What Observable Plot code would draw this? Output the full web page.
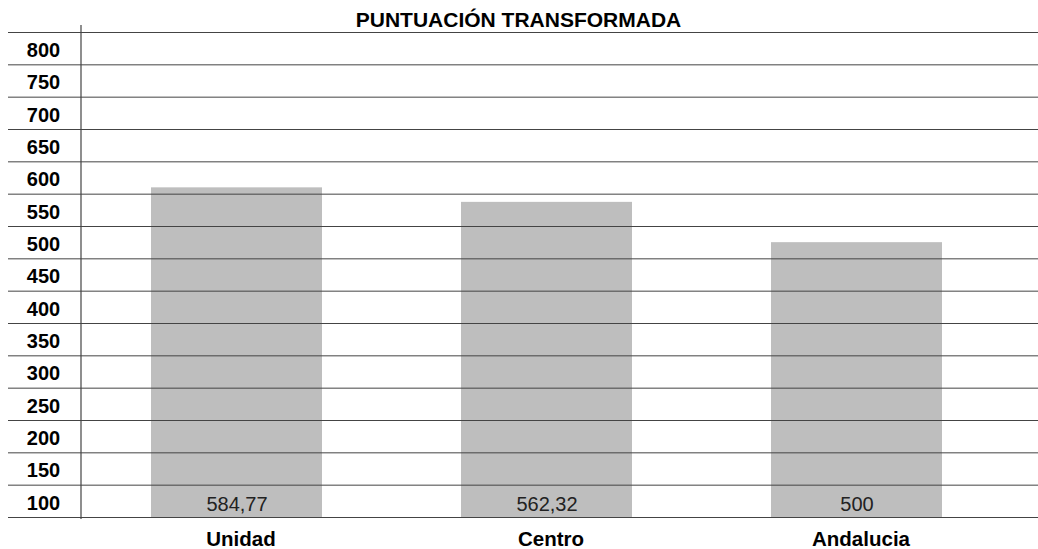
<!DOCTYPE html>
<html><head><meta charset="utf-8">
<script src="https://cdn.jsdelivr.net/npm/d3@7"></script>
<script src="https://cdn.jsdelivr.net/npm/@observablehq/plot@0.6"></script>
<style>body{margin:0;background:#fff} svg{display:block}</style>
</head><body><div id="chart"></div>
<script>
const title = "PUNTUACIÓN TRANSFORMADA";
const categories = ["Unidad", "Centro", "Andalucia"];
const values = [584.77, 562.32, 500];
const tickLabels = [800, 750, 700, 650, 600, 550, 500, 450, 400, 350, 300, 250, 200, 150, 100];
const valueLabelAt = 100;

const data = categories.map((c, i) => ({category: c, value: values[i]}));
const step = 50;
const yMin = d3.min(tickLabels) - step / 2;
const yMax = d3.max(tickLabels) + step / 2;
const boundaries = d3.range(yMin, yMax + step / 2, step);
const fmt = v => String(v).replace(".", ",");

const chart = Plot.plot({
  width: 1038, height: 549,
  marginLeft: 8, marginRight: 0, marginTop: 32, marginBottom: 32,
  style: {fontFamily: "'Liberation Sans', Arial, sans-serif", color: "#000", background: "#fff", overflow: "visible"},
  x: {domain: categories, range: [81, 1011], paddingInner: 0.45, paddingOuter: 0.225, label: null},
  y: {domain: [yMin, yMax], axis: null},
  marks: [
    Plot.barY(data, {x: "category", y1: yMin, y2: "value", fill: "#bebebe"}),
    Plot.ruleY(boundaries, {stroke: "#444", strokeWidth: 1}),
    Plot.text(data, {x: "category", y: valueLabelAt, text: d => fmt(d.value), fontSize: 20, fill: "#222", dy: 3}),
    Plot.text(tickLabels, {y: d => d, text: d => String(d), frameAnchor: "left", textAnchor: "middle", dx: 35, fontSize: 20, fontWeight: "bold", fill: "#000", dy: 2}),
    Plot.text([title], {frameAnchor: "top", lineAnchor: "middle", dy: -12, dx: -5, fontSize: 21, fontWeight: "bold", fill: "#000"}),
    Plot.axisX({tickSize: 0, tickPadding: 14, fontSize: 20.5, fontWeight: "bold", dx: 4})
  ]
});
const xs = chart.scale("x"), ys = chart.scale("y");
d3.select(chart).append("line")
  .attr("x1", xs.range[0]).attr("x2", xs.range[0])
  .attr("y1", ys.range[1] - 7).attr("y2", ys.range[0] + 2)
  .attr("stroke", "#444").attr("stroke-width", 1.2);
document.getElementById("chart").append(chart);
</script>
</body></html>
